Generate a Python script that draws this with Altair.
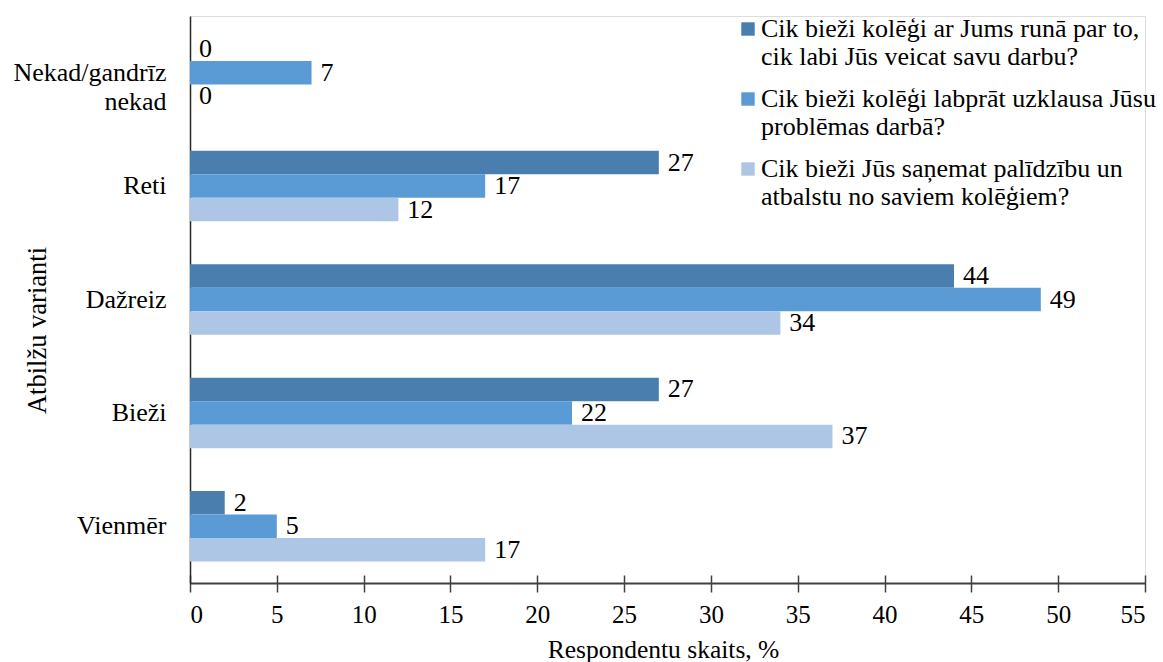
import altair as alt
import pandas as pd

# Answer options (y axis), top to bottom
categories = [
    "Nekad/gandrīz\nnekad\u00a0\u00a0\u00a0\u00a0\u00a0\u00a0\u00a0",
    "Reti",
    "Dažreiz",
    "Bieži",
    "Vienmēr",
]

# Survey questions (legend series)
series = [
    "Cik bieži kolēģi ar Jums runā par to,\ncik labi Jūs veicat savu darbu?",
    "Cik bieži kolēģi labprāt uzklausa Jūsu\nproblēmas darbā?",
    "Cik bieži Jūs saņemat palīdzību un\natbalstu no saviem kolēģiem?",
]
colors = ["#4a7eae", "#5b9bd5", "#adc6e6"]

# Share of respondents, % (one list per question, in category order)
talks_about_work = [0, 27, 44, 27, 2]
listens_to_problems = [7, 17, 49, 22, 5]
gets_help = [0, 12, 34, 37, 17]

x_ticks = list(range(0, 56, 5))

rows = []
for s, vals in zip(series, [talks_about_work, listens_to_problems, gets_help]):
    for c, v in zip(categories, vals):
        rows.append({"atbilde": c, "jautajums": s, "vertiba": v})
df = pd.DataFrame(rows)

FONT = "Liberation Serif"

y_enc = alt.Y(
    "atbilde:N",
    sort=categories,
    scale=alt.Scale(paddingInner=0.378, paddingOuter=0.189),
    axis=alt.Axis(
        title="Atbilžu varianti",
        titleFont=FONT,
        titleFontSize=26.5,
        titleFontWeight="normal",
        titleColor="black",
        titleAngle=270,
        titleAlign="center",
        titleBaseline="middle",
        titleX=-153,
        titleY=314,
        labelFont=FONT,
        labelFontSize=26,
        labelColor="black",
        labelPadding=24,
        labelLineHeight=29,
        labelExpr="split(datum.label, '\\n')",
        ticks=False,
        domainColor="#262626",
        domainWidth=1.5,
        grid=False,
    ),
)
yoff_enc = alt.YOffset(
    "jautajums:N",
    sort=series,
    scale=alt.Scale(paddingInner=0, paddingOuter=0),
)

# Main x axis: ticks crossing the axis line, labels and title
x_axis_main = alt.Axis(
    values=x_ticks,
    orient="bottom",
    offset=-8,
    tickSize=17,
    tickColor="#404040",
    tickWidth=1.5,
    domain=False,
    grid=False,
    labelFont=FONT,
    labelFontSize=25,
    labelColor="black",
    labelPadding=10,
    title="Respondentu skaits, %",
    titleFont=FONT,
    titleFontSize=25.5,
    titleFontWeight="normal",
    titleColor="black",
    titleBaseline="alphabetic",
    titleX=473,
    titleY=82,
)
# Secondary x axis: just the axis line
x_axis_line = alt.Axis(
    values=x_ticks,
    orient="bottom",
    ticks=False,
    labels=False,
    grid=False,
    title=None,
    domainColor="#404040",
    domainWidth=2,
)

x_scale = alt.Scale(domain=[0, 55], nice=False)

bars = alt.Chart(df).mark_bar().encode(
    y=y_enc,
    yOffset=yoff_enc,
    x=alt.X("vertiba:Q", scale=x_scale, axis=x_axis_main),
    color=alt.Color(
        "jautajums:N",
        sort=series,
        scale=alt.Scale(domain=series, range=colors),
        legend=alt.Legend(
            title=None,
            orient="none",
            legendX=545,
            legendY=0,
            symbolType="square",
            symbolSize=180,
            symbolStrokeWidth=0,
            symbolOpacity=1,
            labelFont=FONT,
            labelFontSize=26,
            labelColor="black",
            labelLimit=700,
            labelBaseline="middle",
            labelOffset=0,
            labelExpr="split(datum.label, '\\n')",
            rowPadding=16,
            padding=0,
        ),
    ),
)

labels = alt.Chart(df).mark_text(
    align="left", baseline="middle", dx=9, font=FONT, fontSize=26, color="black"
).encode(
    y=y_enc,
    yOffset=yoff_enc,
    x=alt.X("vertiba:Q", scale=x_scale, axis=x_axis_line),
    text=alt.Text("vertiba:Q"),
)

chart = (
    alt.layer(bars, labels)
    .resolve_axis(x="independent")
    .properties(
        width=955,
        height=567,
        autosize=alt.AutoSizeParams(type="none"),
        padding={"left": 190, "top": 16, "right": 18, "bottom": 79},
    )
    .configure_view(stroke=None)
    .configure(background="white")
)

chart.save("out.html", embed_options={"renderer": "svg", "actions": False})
